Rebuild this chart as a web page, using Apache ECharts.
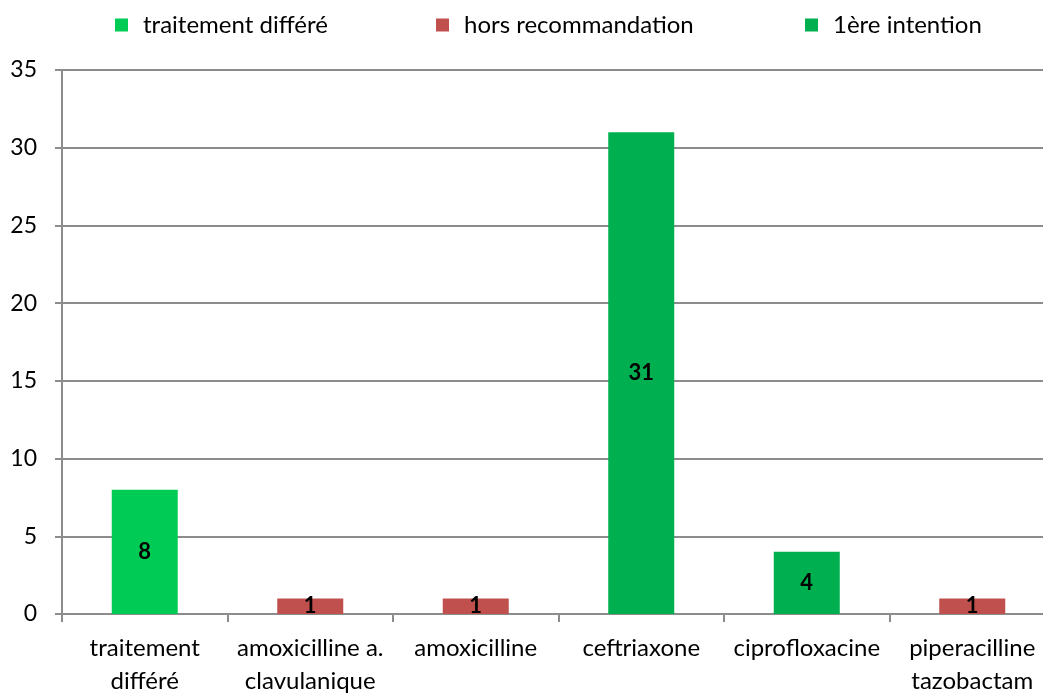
<!DOCTYPE html>
<html>
<head>
<meta charset="utf-8">
<script src="https://cdn.jsdelivr.net/npm/echarts@6/dist/echarts.min.js"></script>
<style>
  html, body { margin: 0; padding: 0; background: #fff; }
  #main { width: 1043px; height: 693px; }
</style>
</head>
<body>
<div id="main"></div>
<script>
// categories and values
var categories = ['traitement\ndifféré', 'amoxicilline a.\nclavulanique', 'amoxicilline',
                  'ceftriaxone', 'ciprofloxacine', 'piperacilline\ntazobactam'];
var seriesNames = ['traitement différé', 'hors recommandation', '1ère intention'];
var differe = [8, '-', '-', '-', '-', '-'];
var horsReco = ['-', 1, 1, '-', '-', 1];
var premiere = ['-', '-', '-', 31, 4, '-'];
var yTicks = { min: 0, max: 35, interval: 5 };

var font = 'Lato, "Open Sans", sans-serif';
var gray = '#8c8c8c';

var label = {
  show: true,
  position: 'inside',
  color: '#000',
  fontWeight: 'bold',
  fontSize: 22,
  fontFamily: font
};

// one legend per entry so each can sit where the original has it
var legendLeft = [110, 431, 800];
var legends = seriesNames.map(function (n, i) {
  return {
    top: 8,
    left: legendLeft[i],
    itemWidth: 13,
    itemHeight: 13,
    icon: 'rect',
    textStyle: { fontSize: 24, fontFamily: font, color: '#000', padding: [0, 0, 0, 10] },
    data: [n]
  };
});

var chart = echarts.init(document.getElementById('main'));
chart.setOption({
  animation: false,
  backgroundColor: '#fff',
  color: ['#00cc55', '#c0504d', '#00b050'],
  legend: legends,
  grid: { left: 62, right: -12, top: 70, bottom: 79, outerBoundsMode: 'none' },
  xAxis: {
    type: 'category',
    data: categories,
    axisLine: { lineStyle: { color: gray, width: 2 } },
    axisTick: { show: true, interval: 0, length: 8, lineStyle: { color: gray, width: 2 } },
    axisLabel: { interval: 0, fontSize: 24, fontFamily: font, color: '#000', margin: 18, lineHeight: 33 }
  },
  yAxis: {
    type: 'value',
    min: yTicks.min,
    max: yTicks.max,
    interval: yTicks.interval,
    axisLine: { show: true, lineStyle: { color: gray, width: 2 } },
    axisTick: { show: true, length: 7, lineStyle: { color: gray, width: 2 } },
    splitLine: { lineStyle: { color: gray, width: 2 } },
    axisLabel: { fontSize: 23, fontFamily: font, color: '#000', margin: 25 }
  },
  series: [
    { name: seriesNames[0], type: 'bar', stack: 'all', barWidth: 66, data: differe, label: label },
    { name: seriesNames[1], type: 'bar', stack: 'all', barWidth: 66, data: horsReco, label: label },
    { name: seriesNames[2], type: 'bar', stack: 'all', barWidth: 66, data: premiere, label: label }
  ]
});
</script>
</body>
</html>
